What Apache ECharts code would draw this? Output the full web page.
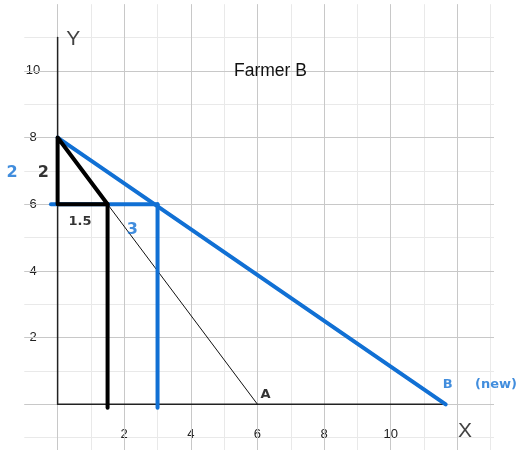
<!DOCTYPE html>
<html>
<head>
<meta charset="utf-8">
<script src="https://cdn.jsdelivr.net/npm/echarts@6/dist/echarts.min.js"></script>
<style>html,body{margin:0;padding:0;background:#fff;}#c{width:525px;height:450px;}</style>
</head>
<body>
<div id="c"></div>
<script>
// ---- data ----
var titleText = 'Farmer B';
var xTickLabels = [2, 4, 6, 8, 10];
var yTickLabels = [2, 4, 6, 8, 10];
var axisYLine = [[0, 0], [0, 11]];
var axisXLine = [[0, 0], [11.65, 0]];
var ppfA = [[0, 8], [6, 0]];
var ppfBNew = [[0, 8], [11.65, 0]];
var blueLevel = [[-0.2, 6], [3, 6]];
var blueDrop = [[3, 6], [3, -0.1]];
var blackTriangle = [[0, 8], [0, 6], [1.5, 6], [0, 8]];
var blackDrop = [[1.5, 6], [1.5, -0.1]];
var axisNames = [[0.47, 10.96, 'Y'], [12.23, -0.8, 'X']];
var bigNotesBlack = [[-0.43, 6.93, '2']];
var bigNotesBlue = [[-1.37, 6.93, '2'], [2.24, 5.23, '3']];
var smallNotesBlack = [[0.67, 5.48, '1.5'], [6.24, 0.3, 'A']];
var smallNotesBlue = [[11.71, 0.58, 'B'], [13.16, 0.58, '(new)']];

var BLUE = '#1170d4';
var MINOR = '#e9e9e9';
var MAJOR = '#c8c8c8';
var chart = echarts.init(document.getElementById('c'), null, {renderer: 'canvas'});

function lineSeries(data, color, width, z) {
  return {
    type: 'line', data: data, symbol: 'none', z: z, silent: true, animation: false,
    lineStyle: {color: color, width: width, cap: 'round', join: 'round'}
  };
}
function noteSeries(data, color, size, weight, family) {
  return {
    type: 'scatter', data: data, symbolSize: 0, clip: false, z: 10, silent: true, animation: false,
    label: {
      show: true, position: 'inside', formatter: function (p) { return p.data[2]; },
      color: color, fontSize: size, fontWeight: weight, fontFamily: family
    }
  };
}
function gridAxis(extra) {
  var base = {
    type: 'value', axisLine: {show: false}, axisTick: {show: false}
  };
  for (var k in extra) base[k] = extra[k];
  return base;
}

chart.setOption({
  animation: false,
  backgroundColor: '#ffffff',
  title: {
    text: titleText, left: 234, top: 62, padding: 0,
    textStyle: {fontFamily: 'Liberation Sans', fontSize: 17.5, fontWeight: 'normal', color: '#111'}
  },
  grid: {left: 24.3, right: 31, top: 4.2, bottom: 0, containLabel: false},
  xAxis: [
    gridAxis({
      min: -1, max: 13.1, minInterval: 1, maxInterval: 1, splitNumber: 14, z: 0,
      splitLine: {show: true, showMinLine: false, showMaxLine: false, lineStyle: {color: MINOR, width: 1}},
      axisLabel: {
        margin: -16, verticalAlign: 'middle', fontFamily: 'Liberation Sans', fontSize: 13, color: '#222',
        formatter: function (v) { return xTickLabels.indexOf(v) >= 0 ? String(v) : ''; }
      }
    }),
    gridAxis({
      min: -1, max: 13.1, minInterval: 2, maxInterval: 2, splitNumber: 7, z: 1, position: 'bottom',
      splitLine: {show: true, showMinLine: false, showMaxLine: false, lineStyle: {color: MAJOR, width: 1}},
      axisLabel: {show: false}
    })
  ],
  yAxis: [
    gridAxis({
      min: -1.37, max: 12, minInterval: 1, maxInterval: 1, splitNumber: 13, z: 0,
      splitLine: {show: true, showMinLine: false, showMaxLine: false, lineStyle: {color: MINOR, width: 1}},
      axisLabel: {
        margin: -8.7, align: 'center', fontFamily: 'Liberation Sans', fontSize: 13, color: '#222',
        formatter: function (v) { return yTickLabels.indexOf(v) >= 0 ? String(v) : ''; }
      }
    }),
    gridAxis({
      min: -1.37, max: 12, minInterval: 2, maxInterval: 2, splitNumber: 7, z: 1, position: 'left',
      splitLine: {show: true, showMinLine: false, showMaxLine: false, lineStyle: {color: MAJOR, width: 1}},
      axisLabel: {show: false}
    })
  ],
  series: [
    lineSeries(axisYLine, '#222', 1.5, 2),
    lineSeries(axisXLine, '#222', 1.5, 2),
    lineSeries(ppfA, '#111', 1, 3),
    lineSeries(ppfBNew, BLUE, 4, 4),
    lineSeries(blueLevel, BLUE, 4, 4),
    lineSeries(blueDrop, BLUE, 4, 4),
    lineSeries(blackTriangle, '#000', 4, 5),
    lineSeries(blackDrop, '#000', 4, 5),
    noteSeries(axisNames, '#111', 21, 'normal', 'Liberation Sans'),
    noteSeries(bigNotesBlack, '#000', 16, 'bold', 'DejaVu Sans'),
    noteSeries(bigNotesBlue, BLUE, 16, 'bold', 'DejaVu Sans'),
    noteSeries(smallNotesBlack, '#000', 13, 'bold', 'DejaVu Sans'),
    noteSeries(smallNotesBlue, BLUE, 13, 'bold', 'DejaVu Sans')
  ]
});
</script>
</body>
</html>
